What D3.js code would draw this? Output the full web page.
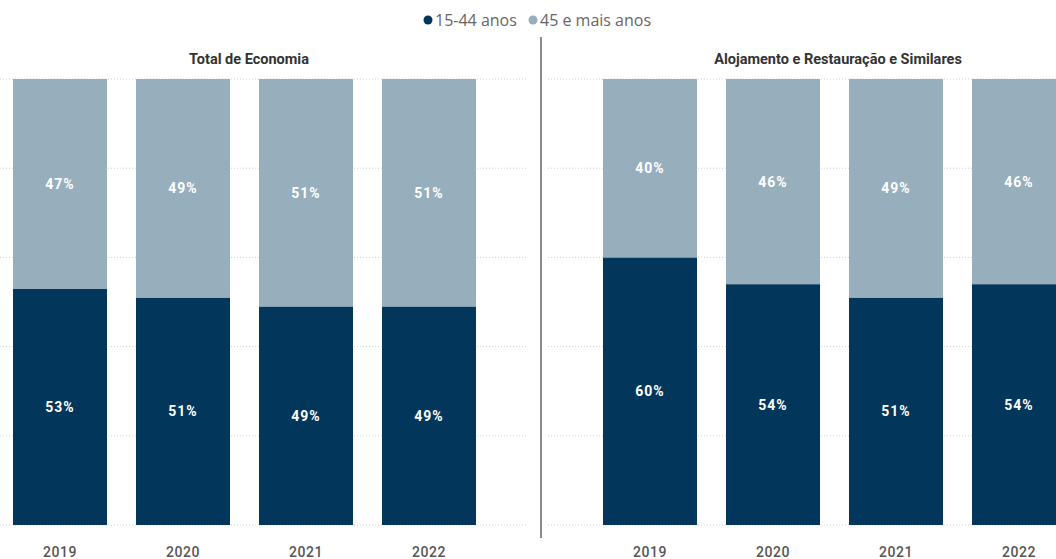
<!DOCTYPE html>
<html>
<head>
<meta charset="utf-8">
<title>Faixa etária</title>
<script src="https://d3js.org/d3.v7.min.js"></script>
<style>
  body { margin: 0; background: #fff; }
  svg { display: block; }
</style>
</head>
<body>
<script>
// data
var years = ["2019", "2020", "2021", "2022"];
var panels = ["Total de Economia", "Alojamento e Restauração e Similares"];
var series = ["15-44 anos", "45 e mais anos"];
// share per age group and year, one list per panel
var young_total = [53, 51, 49, 49];
var old_total = [47, 49, 51, 51];
var young_aloj = [60, 54, 51, 54];
var old_aloj = [40, 46, 49, 46];
var gridTicks = [0, 20, 40, 60, 80, 100];

var w = 1056, h = 559;
var colors = ["#02365a", "#97aebc"];

var svg = d3.select("body").append("svg")
    .attr("width", w)
    .attr("height", h);

var y = d3.scaleLinear().domain([0, 100]).range([525, 79]);

// legend
var legend = svg.append("g").attr("font-family", "'Open Sans', sans-serif")
    .attr("font-size", 16).attr("fill", "#666");
var lx = [428, 533];
series.forEach(function(s, i) {
  legend.append("circle").attr("cx", lx[i]).attr("cy", 20).attr("r", 4.5).attr("fill", colors[i]);
  legend.append("text").attr("x", lx[i] + 7).attr("y", 26).text(s);
});

// divider
svg.append("line")
    .attr("x1", 541).attr("x2", 541).attr("y1", 37).attr("y2", 538)
    .attr("stroke", "#8a8a8a").attr("stroke-width", 2);

var panelData = [
  { title: panels[0], young: young_total, old: old_total, range: [-1.5, 490.5], grid: [0, 528], tx: 249 },
  { title: panels[1], young: young_aloj, old: old_aloj, range: [588.5, 1080.5], grid: [548, 1056], tx: 838 }
];

panelData.forEach(function(p) {
  var g = svg.append("g");
  var x = d3.scaleBand().domain(years).range(p.range).paddingInner(0.236).paddingOuter(0.118);

  // gridlines
  g.selectAll("line.grid").data(gridTicks).enter().append("line")
    .attr("class", "grid")
    .attr("x1", p.grid[0]).attr("x2", p.grid[1])
    .attr("y1", function(d) { return y(d); }).attr("y2", function(d) { return y(d); })
    .attr("stroke", "#d0d0d0").attr("stroke-width", 1).attr("stroke-dasharray", "1,2");

  g.append("text")
    .attr("x", p.tx).attr("y", 64)
    .attr("text-anchor", "middle")
    .attr("font-family", "Roboto, sans-serif").attr("font-weight", "bold")
    .attr("font-size", 14.5).attr("fill", "#333")
    .text(p.title);

  var rows = years.map(function(yr, i) { return { year: yr, young: p.young[i], old: p.old[i] }; });
  var stack = d3.stack().keys(["young", "old"])(rows);

  stack.forEach(function(layer, li) {
    g.selectAll("rect.l" + li).data(layer).enter().append("rect")
      .attr("x", function(d) { return x(d.data.year); })
      .attr("width", x.bandwidth())
      .attr("y", function(d) { return y(d[1]); })
      .attr("height", function(d) { return y(d[0]) - y(d[1]); })
      .attr("fill", colors[li]);

    g.selectAll("text.l" + li).data(layer).enter().append("text")
      .attr("x", function(d) { return x(d.data.year) + x.bandwidth() / 2; })
      .attr("y", function(d) { return (y(d[0]) + y(d[1])) / 2 + 5; })
      .attr("text-anchor", "middle")
      .attr("font-family", "Roboto, sans-serif").attr("font-weight", "bold")
      .attr("font-size", 14).attr("letter-spacing", 1)
      .attr("fill", "#fff")
      .text(function(d) { return (d[1] - d[0]) + "%"; });
  });

  var axis = d3.axisBottom(x).tickSize(0).tickPadding(0);
  var ax = g.append("g").attr("transform", "translate(0,547)").call(axis);
  ax.select(".domain").remove();
  ax.selectAll("text")
    .attr("font-family", "Roboto, sans-serif").attr("font-size", 14)
    .attr("font-weight", 500).attr("letter-spacing", 0.5)
    .attr("fill", "#555");
});
</script>
</body>
</html>
